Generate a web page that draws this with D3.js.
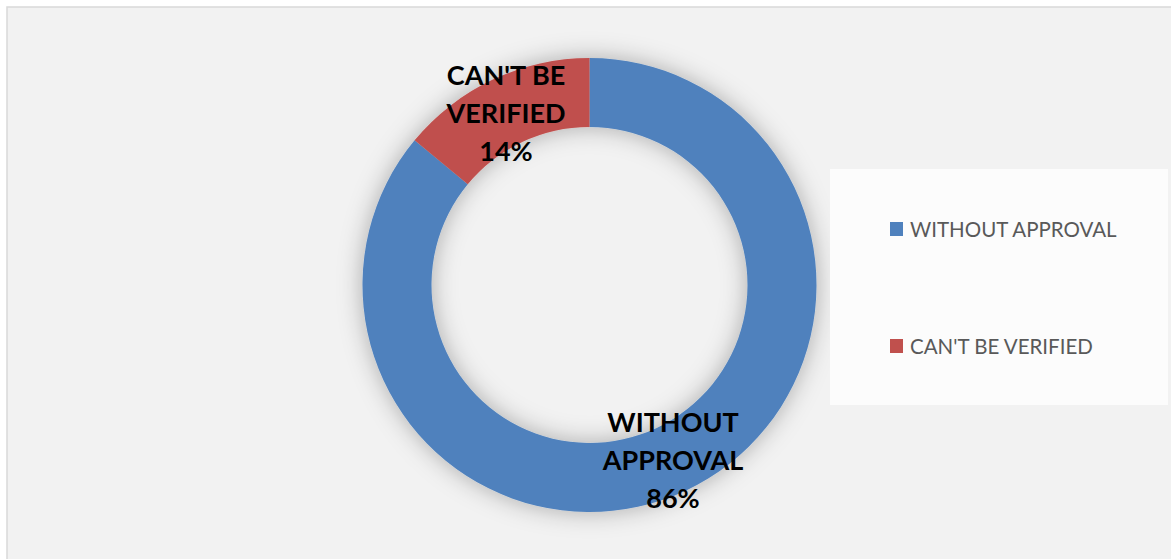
<!DOCTYPE html>
<html>
<head>
<meta charset="utf-8">
<script src="https://cdn.jsdelivr.net/npm/d3@7"></script>
<style>
  body { margin: 0; background: #ffffff; }
  text { font-family: Lato, "Open Sans", sans-serif; }
</style>
</head>
<body>
<div id="chart"></div>
<script>
// chart data
var categories = ['WITHOUT APPROVAL', "CAN'T BE VERIFIED"];
var values     = [86, 14];
var colors     = ['#4f81bd', '#c0504d'];
var labelLines = [['WITHOUT', 'APPROVAL', '86%'], ["CAN'T BE", 'VERIFIED', '14%']];

var WIDTH = 1171, HEIGHT = 559;
var CX = 589.5, CY = 285, OUTER_R = 227, INNER_R = 158;

var svg = d3.select('#chart')
            .append('svg')
            .attr('width', WIDTH)
            .attr('height', HEIGHT);

// soft shadow around the ring
var defs = svg.append('defs');
var filter = defs.append('filter')
                 .attr('id', 'ringShadow')
                 .attr('x', '-30%').attr('y', '-30%')
                 .attr('width', '160%').attr('height', '160%');
filter.append('feGaussianBlur').attr('in', 'SourceAlpha').attr('stdDeviation', 12).attr('result', 'blur');
filter.append('feFlood').attr('flood-color', '#000').attr('flood-opacity', 0.3);
filter.append('feComposite').attr('in2', 'blur').attr('operator', 'in').attr('result', 'shadow');
var merge = filter.append('feMerge');
merge.append('feMergeNode').attr('in', 'shadow');
merge.append('feMergeNode').attr('in', 'SourceGraphic');

// chart area background and border
svg.append('rect')
   .attr('x', 7).attr('y', 7)
   .attr('width', WIDTH).attr('height', HEIGHT)
   .attr('fill', '#f2f2f2')
   .attr('stroke', '#d9d9d9')
   .attr('stroke-width', 1.5);

var pie = d3.pie().sort(null).value(function(d) { return d; });
var arcs = pie(values);
var arc = d3.arc().innerRadius(INNER_R).outerRadius(OUTER_R);

var ring = svg.append('g')
              .attr('transform', 'translate(' + CX + ',' + CY + ')')
              .attr('filter', 'url(#ringShadow)');

ring.selectAll('path')
    .data(arcs)
    .enter()
    .append('path')
    .attr('d', arc)
    .attr('fill', function(d, i) { return colors[i]; });

// data labels, placed near the ring
var labelPos = [
    { x : 673, y : 432 },
    { x : 506, y : 85  }
];
var labels = svg.append('g');
labelLines.forEach(function(lines, i) {
    var t = labels.append('text')
                  .attr('x', labelPos[i].x)
                  .attr('y', labelPos[i].y)
                  .attr('text-anchor', 'middle')
                  .attr('font-size', 27)
                  .attr('font-weight', 'bold')
                  .attr('fill', '#000');
    lines.forEach(function(line, j) {
        t.append('tspan')
         .attr('x', labelPos[i].x)
         .attr('dy', j === 0 ? 0 : 38)
         .text(line);
    });
});

// legend box
svg.append('rect')
   .attr('x', 830).attr('y', 169)
   .attr('width', 338).attr('height', 236)
   .attr('fill', '#fcfcfc');

var legend = svg.selectAll('.legend')
                .data(categories)
                .enter()
                .append('g')
                .attr('class', 'legend')
                .attr('transform', function(d, i) { return 'translate(890,' + (222 + i * 117) + ')'; });

legend.append('rect')
      .attr('width', 13).attr('height', 14)
      .attr('fill', function(d, i) { return colors[i]; });

legend.append('text')
      .attr('x', 20).attr('y', 14.5)
      .attr('font-size', 20.5)
      .attr('fill', '#595959')
      .text(function(d) { return d; });
</script>
</body>
</html>
